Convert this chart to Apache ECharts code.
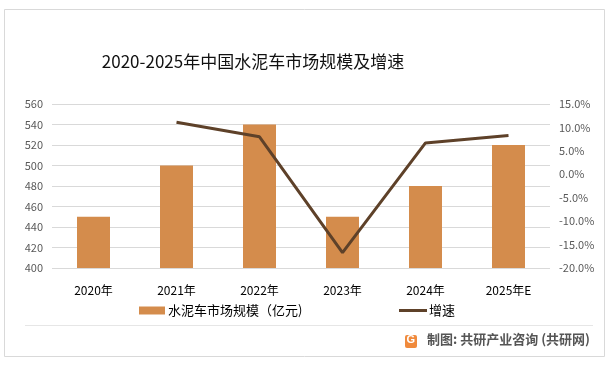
<!DOCTYPE html>
<html><head><meta charset="utf-8">
<script src="https://cdn.jsdelivr.net/npm/echarts@6/dist/echarts.min.js"></script>
<style>html,body{margin:0;padding:0;background:#fff}#c{width:609px;height:365px}</style>
</head><body><div id="c"></div>
<script>
var categories = ['2020年','2021年','2022年','2023年','2024年','2025年E'];
var marketSize = [450, 500, 540, 450, 480, 520];
var growthRate = [null, 11.1, 8.0, -16.7, 6.7, 8.3];
var leftTicks = {min: 400, max: 560, interval: 20};
var rightTicks = {min: -20, max: 15, interval: 5};
var title = '2020-2025年中国水泥车市场规模及增速';
var barName = '水泥车市场规模（亿元)';
var lineName = '增速';
var footer = '制图: 共研产业咨询 (共研网)';

var font = '"Noto Sans CJK SC","Noto Sans",sans-serif';
var chart = echarts.init(document.getElementById('c'), null, {renderer: 'canvas'});
chart.setOption({
  animation: false,
  backgroundColor: '#fff',
  textStyle: {fontFamily: font},
  title: {text: title, left: 248, textAlign: 'center', top: 48,
    textStyle: {fontSize: 17, fontWeight: 'normal', color: '#111', fontFamily: font}},
  grid: {left: 52, right: 59, top: 104, bottom: 97},
  legend: [
    {left: 139, top: 304, padding: 0, itemHeight: 8, itemWidth: 26, itemGap: 0,
     textStyle: {fontSize: 13, color: '#000', fontFamily: font, padding: [0,0,0,-2]},
     data: [{name: barName, icon: 'rect'}]},
    {left: 399, top: 304, padding: 0, itemHeight: 3, itemWidth: 28, itemGap: 0,
     textStyle: {fontSize: 13, color: '#000', fontFamily: font, padding: [0,0,0,-3]},
     data: [{name: lineName, icon: 'rect'}]}
  ],
  xAxis: {type: 'category', data: categories,
    axisLine: {show: false}, axisTick: {show: false},
    axisLabel: {fontSize: 12, color: '#000', margin: 16, fontFamily: font}},
  yAxis: [
    {type: 'value', min: leftTicks.min, max: leftTicks.max, interval: leftTicks.interval,
     axisLine: {show: false}, axisTick: {show: false},
     axisLabel: {fontSize: 11, color: '#595959', margin: 9},
     splitLine: {lineStyle: {color: '#d9d9d9', width: 1}}},
    {type: 'value', min: rightTicks.min, max: rightTicks.max, interval: rightTicks.interval,
     axisLine: {show: false}, axisTick: {show: false}, splitLine: {show: false},
     axisLabel: {fontSize: 11, color: '#595959', margin: 9,
       formatter: function(v){return v.toFixed(1) + '%';}}}
  ],
  series: [
    {name: barName, type: 'bar', data: marketSize, barWidth: 33,
     itemStyle: {color: '#D48C4C'}},
    {name: lineName, type: 'line', yAxisIndex: 1, data: growthRate, symbol: 'none',
     connectNulls: false,
     lineStyle: {color: '#5E4129', width: 3}, itemStyle: {color: '#5E4129'}}
  ],
  graphic: [
    {type: 'rect', shape: {x: 4.5, y: 9.5, width: 600, height: 347},
     style: {fill: 'none', stroke: '#d9d9d9', lineWidth: 1}, z: -1},
    {type: 'line', shape: {x1: 25, y1: 325.5, x2: 593, y2: 325.5},
     style: {stroke: '#e6e6e6', lineWidth: 1}},
    {type: 'rect', shape: {x: 405, y: 335, width: 12, height: 13, r: 2},
     style: {fill: '#F08A3C'}},
    {type: 'text', left: 406.5, top: 334, style: {text: 'G', fill: '#fff', font: 'bold 11px sans-serif'}},
    {type: 'text', left: 427, top: 332.5,
     style: {text: footer, fill: '#555', font: 'bold 13px ' + font}}
  ]
});
</script></body></html>
